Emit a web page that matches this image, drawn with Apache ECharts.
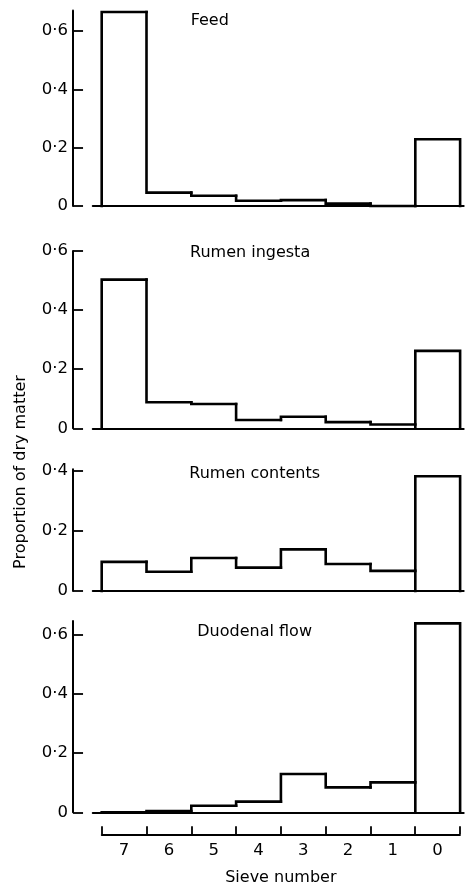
<!DOCTYPE html>
<html>
<head>
<meta charset="utf-8">
<script src="https://cdn.jsdelivr.net/npm/echarts@6/dist/echarts.min.js"></script>
<style>
html,body{margin:0;padding:0;background:#fff;}
#chart{width:471px;height:887px;}
</style>
</head>
<body>
<div id="chart"></div>
<script>
// Sieve numbers (bins, left to right)
const sieves = ['7', '6', '5', '4', '3', '2', '1', '0'];
// Proportion of dry matter per sieve
const feed          = [0.665, 0.046, 0.035, 0.018, 0.020, 0.008, 0.000, 0.229];
const rumenIngesta  = [0.503, 0.088, 0.082, 0.028, 0.039, 0.021, 0.013, 0.262];
const rumenContents = [0.097, 0.064, 0.110, 0.078, 0.139, 0.090, 0.067, 0.383];
const duodenalFlow  = [0.000, 0.004, 0.022, 0.036, 0.129, 0.084, 0.101, 0.637];
const panelTitles = ['Feed', 'Rumen ingesta', 'Rumen contents', 'Duodenal flow'];
const yTicks = [[0, 0.2, 0.4, 0.6], [0, 0.2, 0.4, 0.6], [0, 0.2, 0.4], [0, 0.2, 0.4, 0.6]];

const panels = [feed, rumenIngesta, rumenContents, duodenalFlow];
const yMax = [0.67, 0.6, 0.406, 0.645];
const gridTop = [10.6, 251, 469.3, 621];
const gridHeight = [195.4, 177.3, 121.7, 191.3];
const titlePos = [[190.7, 21], [190, 252.5], [189.3, 474], [197.3, 631.7]];

const FONT = 'DejaVu Sans';
const fmt = v => v === 0 ? '0' : v.toFixed(1).replace('.', '\u00B7');

function renderItem(params, api) {
  const i = api.value(0), v = api.value(1), prev = api.value(2);
  const n = sieves.length;
  const isFirst = i === 0, isLast = i === n - 1;
  const leftBase = (isFirst || isLast) ? 0 : prev;
  const pts = [api.coord([i, leftBase]), api.coord([i, v]), api.coord([i + 1, v])];
  if (isLast) pts.push(api.coord([i + 1, 0]));
  return {
    type: 'polyline',
    shape: { points: pts },
    style: { stroke: '#000', lineWidth: 2.6, fill: null, lineJoin: 'miter', lineCap: 'square' },
    silent: true
  };
}

const grids = [], xAxes = [], yAxes = [], series = [], graphics = [];
panels.forEach((vals, k) => {
  grids.push({ left: 92.74, right: 7.3, top: gridTop[k], height: gridHeight[k] });
  xAxes.push({
    gridIndex: k, type: 'value', min: -0.2, max: 8.08,
    axisLine: { show: true, lineStyle: { color: '#000', width: 2 } },
    axisTick: { show: false }, axisLabel: { show: false }, splitLine: { show: false }
  });
  yAxes.push({
    gridIndex: k, type: 'value', min: 0, max: yMax[k], offset: 19.7,
    axisLine: { show: true, onZero: false, lineStyle: { color: '#000', width: 2 } },
    axisTick: { show: true, inside: true, length: 10, customValues: yTicks[k], lineStyle: { color: '#000', width: 1.8 } },
    axisLabel: { show: true, margin: 5, customValues: yTicks[k], formatter: fmt, color: '#000', fontFamily: FONT, fontSize: 16.5 },
    splitLine: { show: false }
  });
  series.push({
    type: 'custom', xAxisIndex: k, yAxisIndex: k, silent: true,
    renderItem: renderItem,
    data: vals.map((v, i) => [i, v, i > 0 ? vals[i - 1] : 0]),
    clip: false
  });
  graphics.push({
    type: 'text', x: titlePos[k][0], y: titlePos[k][1],
    style: { text: panelTitles[k], fill: '#000', font: '16px "' + FONT + '"', textAlign: 'left', textVerticalAlign: 'middle' }
  });
});

// Sieve number axis
grids.push({ left: 101.7, right: 11, top: 834, height: 1 });
xAxes.push({
  gridIndex: 4, type: 'category', data: sieves, boundaryGap: true,
  name: 'Sieve number', nameLocation: 'middle', nameGap: 36,
  nameTextStyle: { color: '#000', fontFamily: FONT, fontSize: 16 },
  axisLine: { show: true, lineStyle: { color: '#000', width: 1.8 } },
  axisTick: { show: true, inside: true, length: 8, alignWithLabel: false, lineStyle: { color: '#000', width: 1.8 } },
  axisLabel: { show: true, margin: 8, color: '#000', fontFamily: FONT, fontSize: 16.5, interval: 0 },
  splitLine: { show: false }
});
yAxes.push({ gridIndex: 4, type: 'value', show: false });

graphics.push({
  type: 'text', x: 21, y: 472, rotation: Math.PI / 2,
  style: { text: 'Proportion of dry matter', fill: '#000', font: '16px "' + FONT + '"', textAlign: 'center', textVerticalAlign: 'middle' }
});

const chart = echarts.init(document.getElementById('chart'), null, { renderer: 'canvas' });
chart.setOption({
  backgroundColor: '#fff',
  animation: false,
  grid: grids, xAxis: xAxes, yAxis: yAxes, series: series,
  graphic: graphics
});
</script>
</body>
</html>
